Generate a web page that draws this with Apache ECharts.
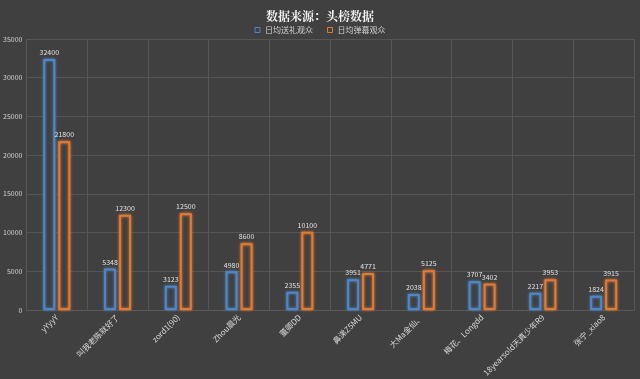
<!DOCTYPE html>
<html><head><meta charset="utf-8">
<script src="https://cdn.jsdelivr.net/npm/echarts@6/dist/echarts.min.js"></script>
<style>html,body{margin:0;padding:0;background:#404040;}#c{width:640px;height:379px;}</style>
</head><body><div id="c"></div>
<script>
const categories = ["yYyyY", "叫我老陈就好了", "zord1(90)", "Zhou晨光", "董卿DD", "鼻涕Z5MU", "大Ma金仙、", "梅花、Longdd", "18yearsold天真少年R9", "张宁_xiao8"];
const giftViewers = [32400, 5348, 3123, 4980, 2355, 3951, 2038, 3707, 2217, 1824];
const danmuViewers = [21800, 12300, 12500, 8600, 10100, 4771, 5125, 3402, 3953, 3915];
const seriesNames = ["日均送礼观众", "日均弹幕观众"];
const yTicks = {min: 0, max: 35000, interval: 5000};

const chart = echarts.init(document.getElementById('c'));
const font = '"Noto Sans CJK SC", "Noto Sans", sans-serif';
function bar(name, data, color) {
  return {
    name, type: 'bar', data, barWidth: 12, barGap: '25%',
    itemStyle: {color: 'rgba(64,64,64,1)', borderColor: color, borderWidth: 2, shadowColor: color, shadowBlur: 3},
    label: {show: true, position: 'top', color: '#e0e0e0', fontSize: 7, fontFamily: font, distance: 3}
  };
}
chart.setOption({
  backgroundColor: '#404040',
  animation: false,
  title: {text: '数据来源：头榜数据', left: 'center', top: 5,
    textStyle: {color: '#f2f2f2', fontSize: 12, fontWeight: 'bold', fontFamily: '"Noto Serif CJK SC", "Noto Sans CJK SC", serif'}},
  legend: {data: seriesNames, top: 21, left: 'center', itemWidth: 5, itemHeight: 5, itemGap: 14,
    icon: 'rect', itemStyle: {borderWidth: 1, shadowBlur: 0},
    textStyle: {color: '#d0d0d0', fontSize: 8, fontFamily: font}},
  grid: {left: 24, right: 6, top: 39, bottom: 65},
  xAxis: {type: 'category', data: categories,
    axisLine: {lineStyle: {color: '#5a5a5a'}}, axisTick: {show: false},
    splitLine: {show: true, lineStyle: {color: '#555555'}},
    axisLabel: {rotate: 45, color: '#d8d8d8', fontSize: 8, fontFamily: font, margin: 6, interval: 0}},
  yAxis: {type: 'value', min: yTicks.min, max: yTicks.max, interval: yTicks.interval,
    axisLine: {show: false}, axisTick: {show: false},
    splitLine: {lineStyle: {color: '#555555'}},
    axisLabel: {color: '#d0d0d0', fontSize: 7, fontFamily: font, margin: 4, formatter: v => String(v)}},
  series: [bar(seriesNames[0], giftViewers, '#4f86c6'), bar(seriesNames[1], danmuViewers, '#e07a34')]
});
</script></body></html>
